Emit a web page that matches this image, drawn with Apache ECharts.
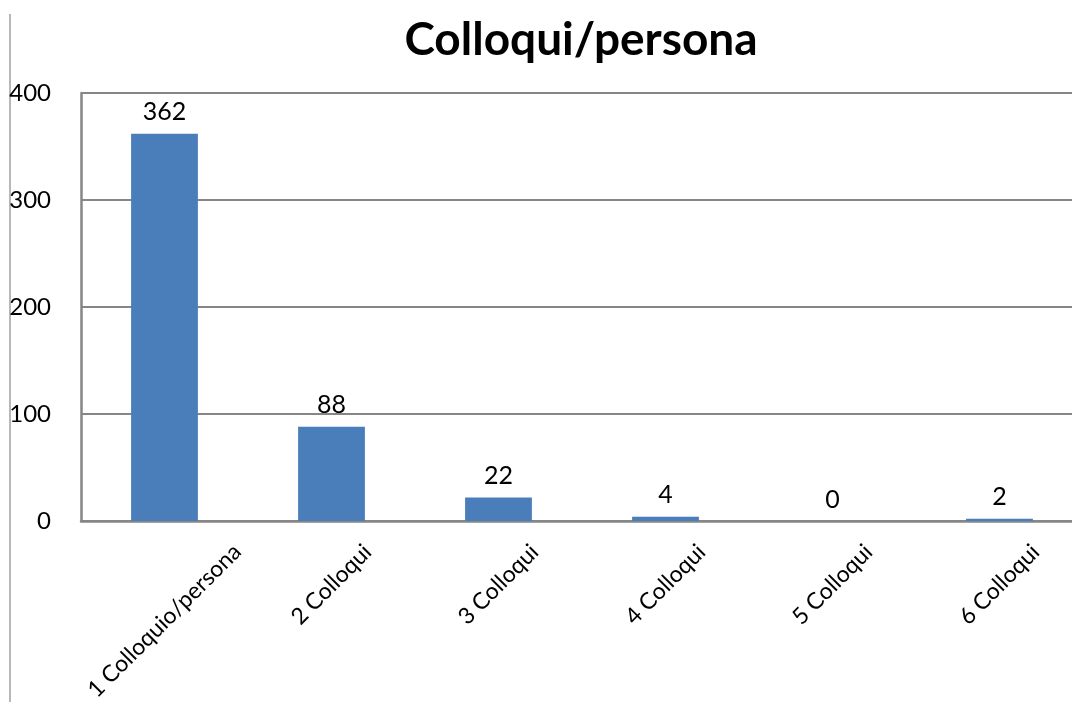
<!DOCTYPE html>
<html><head><meta charset="utf-8">
<script src="https://cdn.jsdelivr.net/npm/echarts@6/dist/echarts.min.js"></script>
<style>html,body{margin:0;padding:0;background:#fff}#c{width:1072px;height:702px}</style>
</head><body><div id="c"></div>
<script>
const title = 'Colloqui/persona';
const categories = ['1 Colloquio/persona','2 Colloqui','3 Colloqui','4 Colloqui','5 Colloqui','6 Colloqui'];
const values = [362, 88, 22, 4, 0, 2];
const yTicks = [0, 100, 200, 300, 400];

const FONT = 'Lato';
const catFontSize = 23;
const cv = document.createElement('canvas').getContext('2d');
cv.font = catFontSize + 'px ' + FONT;
// Excel-style rotated labels: centred under the band, top edges aligned.
const catData = categories.map(c => {
  const L = cv.measureText(c).width;
  const s = Math.round((L + catFontSize) / 2);
  return { value: c, textStyle: { align: 'center', verticalAlign: 'top', lineHeight: s, padding: [0, s, 0, 0],
    fontFamily: FONT, fontSize: catFontSize, color: '#000' } };
});

const chart = echarts.init(document.getElementById('c'));
chart.setOption({
  animation: false,
  backgroundColor: '#fff',
  title: {
    text: title, left: 576, top: 12, textAlign: 'center',
    textStyle: { fontFamily: FONT, fontWeight: 'bold', fontSize: 46, color: '#000' }
  },
  graphic: [{ type: 'line', shape: { x1: 10, y1: 14, x2: 10, y2: 702 }, style: { stroke: '#a0a0a0', lineWidth: 1.5 } }],
  grid: { left: 81, top: 93, right: -11, bottom: 181, containLabel: false, outerBoundsMode: 'none' },
  xAxis: {
    type: 'category', data: catData,
    axisTick: { show: false },
    axisLine: { lineStyle: { color: '#868686', width: 2.5 } },
    axisLabel: { rotate: 45, margin: 19, interval: 0,
      fontFamily: FONT, fontSize: catFontSize, color: '#000' }
  },
  yAxis: {
    type: 'value', min: yTicks[0], max: yTicks[yTicks.length - 1], interval: 100,
    axisLine: { show: true, lineStyle: { color: '#868686', width: 2.5 } },
    axisTick: { show: false },
    splitLine: { lineStyle: { color: '#868686', width: 2 } },
    axisLabel: { margin: 30, fontFamily: FONT, fontSize: 24, color: '#000' }
  },
  series: [{
    type: 'bar', data: values, barWidth: '40%',
    itemStyle: { color: '#4a7ebb' },
    label: { show: true, position: 'top', distance: 9, fontFamily: FONT, fontSize: 25, color: '#000' }
  }]
});
</script></body></html>
